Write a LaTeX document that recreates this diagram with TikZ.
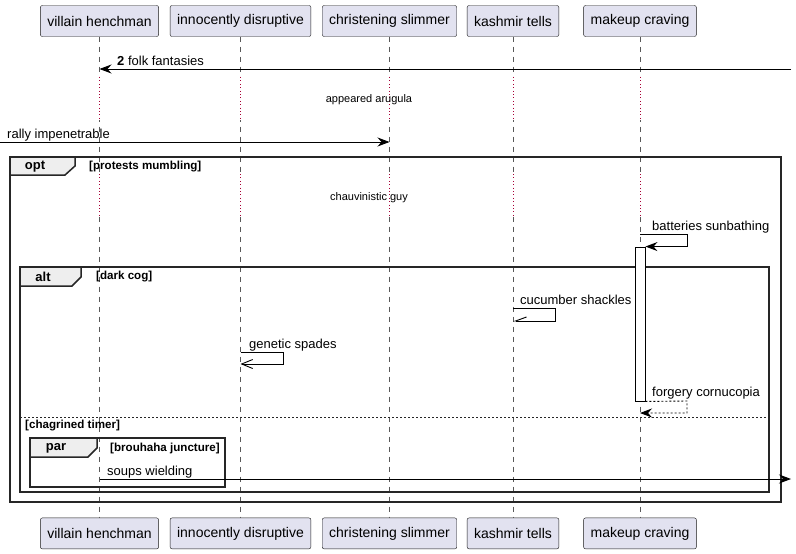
\documentclass[tikz,border=0pt]{standalone}
\usepackage{fontspec}
\setmainfont{Liberation Sans}
\usetikzlibrary{positioning}
\usetikzlibrary{arrows.meta}
\definecolor{partfill}{HTML}{E2E2F0}
\definecolor{partline}{HTML}{181818}
\definecolor{delaycol}{HTML}{A80036}
\definecolor{tabfill}{HTML}{EEEEEE}
\tikzset{node distance=481pt, % Gap between top and bottom participant boxes
part/.style={ % Participant boxes
draw=partline,
fill=partfill,
rounded corners=2pt,
minimum height=31pt,
inner xsep=7pt,
font=\fontsize{14}{16}\selectfont},
life/.style={draw=gray!70!black, line width=0.5pt, dash pattern=on 5pt off 5pt},
delay/.style={draw=delaycol, line width=0.8pt, dash pattern=on 0.8pt off 2.6pt,
preaction={draw=white, line width=2pt, solid}},
msg/.style={ % Plain messages with bold heads
draw,
line width=0.9pt,
-{Stealth[length=12pt,width=9pt,inset=4pt]}},
openmsg/.style={draw, line width=0.9pt, -{Straight Barb[length=11pt,width=9pt]}},
halfmsg/.style={draw, line width=0.9pt, -{Straight Barb[right,length=11pt,width=8pt]}},
retmsg/.style={msg, dash pattern=on 2pt off 2pt},
lbl/.style={anchor=base west, inner sep=0pt, font=\fontsize{13}{15}\selectfont},
dlbl/.style={inner sep=0pt, font=\fontsize{11}{13}\selectfont},
cond/.style={anchor=west, inner sep=0pt, font=\bfseries\fontsize{11.6}{13}\selectfont},
kw/.style={inner sep=0pt, font=\bfseries\fontsize{13}{15}\selectfont},
frame/.style={draw=black!85, line width=1.5pt},
tab/.style={frame, fill=tabfill}}

\begin{document}
\begin{tikzpicture}[x=1pt, y=-1pt]
\useasboundingbox (0,0) rectangle (796,554);

% participants
\node[part] (v) at (99.5,21) {villain henchman};
\node[part] (i) at (240.5,21) {innocently disruptive};
\node[part] (c) at (389.5,21) {christening slimmer};
\node[part] (k) at (513,21) {kashmir tells};
\node[part] (m) at (640,21) {makeup craving};
\node[part, below=of v] (v2) {villain henchman};
\node[part, below=of i] (i2) {innocently disruptive};
\node[part, below=of c] (c2) {christening slimmer};
\node[part, below=of k] (k2) {kashmir tells};
\node[part, below=of m] (m2) {makeup craving};

% lifelines
\draw[life] (v) -- (v2);
\draw[life] (i) -- (i2);
\draw[life] (c) -- (c2);
\draw[life] (k) -- (k2);
\draw[life] (m) -- (m2);

% delays
\coordinate (d1a) at (0,77);
\coordinate (d1b) at (0,120);
\coordinate (d2a) at (0,174);
\coordinate (d2b) at (0,216);
\draw[delay] (d1a -| v) -- (d1b -| v) (d2a -| v) -- (d2b -| v);
\draw[delay] (d1a -| i) -- (d1b -| i) (d2a -| i) -- (d2b -| i);
\draw[delay] (d1a -| c) -- (d1b -| c) (d2a -| c) -- (d2b -| c);
\draw[delay] (d1a -| k) -- (d1b -| k) (d2a -| k) -- (d2b -| k);
\draw[delay] (d1a -| m) -- (d1b -| m) (d2a -| m) -- (d2b -| m);
\node[dlbl] (aa) at (369,100) {appeared arugula};
\node[dlbl] (cg) at (369,198) {chauvinistic guy};

% frames
\draw[frame] (10,157) rectangle (781,502);
\draw[tab] (10,157) -- (75,157) -- (75,166) -- (65,175) -- (10,175) -- cycle;
\node[kw] (opt) at (35,167) {opt};
\node[cond] (pm) at (89,167) {[protests mumbling]};

\draw[frame] (20,267) rectangle (769,492);
\draw[tab] (20,267) -- (81,267) -- (81,277) -- (72,286) -- (20,286) -- cycle;
\node[kw] (alt) at (43,277) {alt};
\node[cond] (dc) at (96,277) {[dark cog]};
\draw[black!85, line width=0.9pt, dash pattern=on 2pt off 2pt] (20,417) -- (769,417);
\node[cond] (ct) at (25,425.5) {[chagrined timer]};

\draw[frame] (30,438) rectangle (225,487);
\draw[tab] (30,438) -- (97,438) -- (97,448) -- (88,457) -- (30,457) -- cycle;
\node[kw] (par) at (56,448) {par};
\node[cond] (bj) at (110,448) {[brouhaha juncture]};

% activation
\node[draw, fill=white, line width=0.9pt, minimum width=10pt, minimum height=154pt, inner sep=0pt] (act) at (640,324) {};

% messages
\coordinate (ff) at (791,69);
\draw[msg] (ff) -- (ff -| v);
\node[lbl] (ffl) at (117,65.5) {\textbf{2} folk fantasies};

\coordinate (ri) at (0,142);
\draw[msg] (ri) -- (ri -| c);
\node[lbl] (ril) at (7,138) {rally impenetrable};

\coordinate (bs) at (687,234);
\draw[msg] (bs -| m) -- (bs) |- (act.north east);
\node[lbl] (bsl) at (652,230.5) {batteries sunbathing};

\coordinate (cs1) at (555,308);
\coordinate (cs2) at (555,321);
\draw[halfmsg] (cs1 -| k) -- (cs1) -- (cs2) -- (cs2 -| k);
\node[lbl] (csl) at (520,304.5) {cucumber shackles};

\coordinate (gs1) at (283,352);
\coordinate (gs2) at (283,364);
\draw[openmsg] (gs1 -| i) -- (gs1) -- (gs2) -- (gs2 -| i);
\node[lbl] (gsl) at (249,348.5) {genetic spades};

\coordinate (fc1) at (687,401);
\coordinate (fc2) at (687,413);
\draw[retmsg] (act.south east) -- (fc1) -- (fc2) -- (fc2 -| m);
\node[lbl] (fcl) at (652,396.5) {forgery cornucopia};

\coordinate (sw) at (791,479);
\draw[msg] (sw -| v) -- (sw);
\node[lbl] (swl) at (107,475.5) {soups wielding};
\end{tikzpicture}
\end{document}
